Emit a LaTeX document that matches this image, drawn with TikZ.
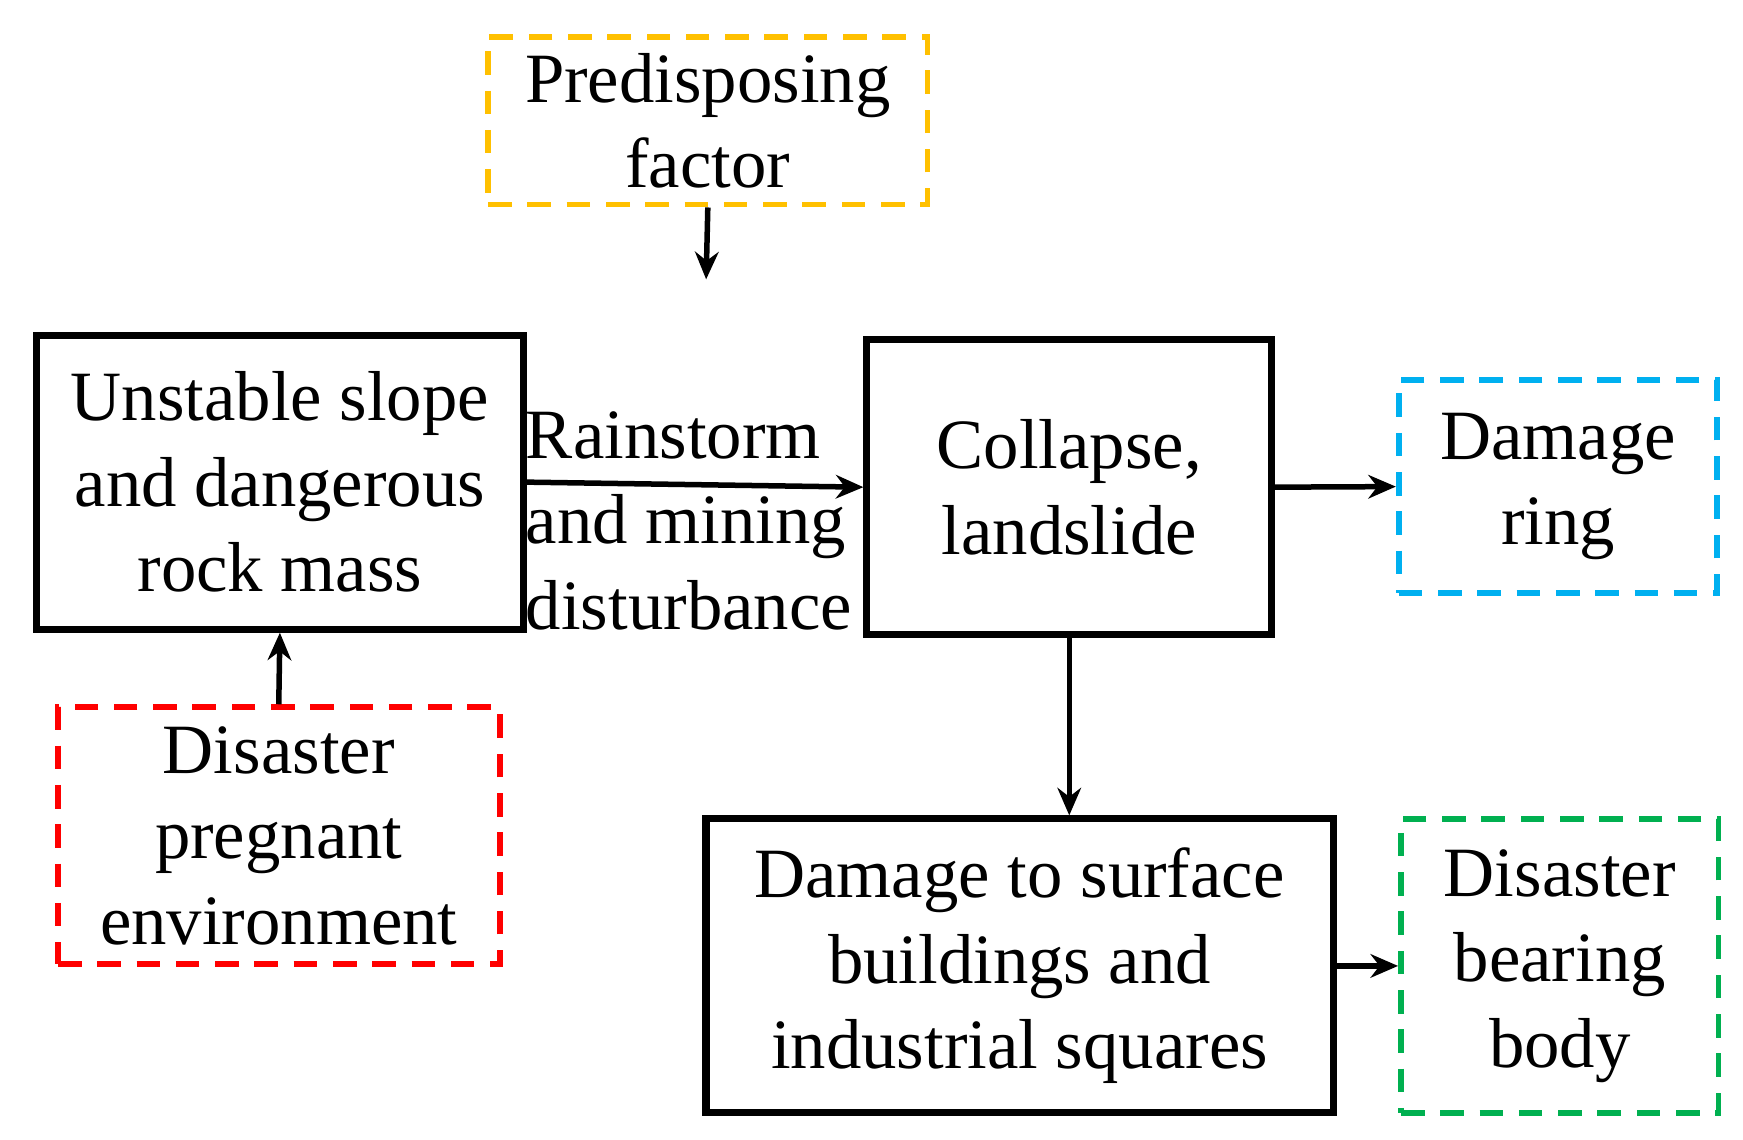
\documentclass[tikz,border=0pt]{standalone}
\usepackage{fontspec}
\setmainfont{Liberation Serif}
\usetikzlibrary{arrows.meta}
\begin{document}
\begin{tikzpicture}[x=0.01cm,y=-0.01cm,
  box/.style={draw,line width=1.8pt,rectangle,inner sep=0pt,align=center,font=\fontsize{18}{21.8}\selectfont},
  dbox/.style={box,dashed,dash pattern=on 6pt off 4pt,line width=1.5pt},
  arr/.style={-{Stealth[length=7pt,width=6pt]},line width=1.4pt}]
\useasboundingbox (0,0) rectangle (1560,1020);
\node[dbox,draw={rgb,255:red,255;green,192;blue,0},minimum width=3.93cm,minimum height=1.5cm] (pre) at (633.5,108) {Predisposing\\factor};
\node[box,minimum width=4.35cm,minimum height=2.63cm] (uns) at (250.5,431.5) {Unstable slope\\and dangerous\\rock mass};
\node[box,minimum width=3.62cm,minimum height=2.64cm] (col) at (957,436) {Collapse,\\landslide};
\node[dbox,draw={rgb,255:red,0;green,176;blue,240},minimum width=2.85cm,minimum height=1.91cm] (ring) at (1394.5,435.5) {Damage\\ring};
\node[dbox,draw=red,minimum width=3.95cm,minimum height=2.3cm] (env) at (249.5,748) {Disaster\\pregnant\\environment};
\node[box,minimum width=5.61cm,minimum height=2.63cm] (dam) at (912.5,864.5) {Damage to surface\\buildings and\\industrial squares};
\node[dbox,draw={rgb,255:red,0;green,176;blue,80},minimum width=2.84cm,minimum height=2.63cm] (bear) at (1396,864.5) {Disaster\\bearing\\body};
\node[align=left,anchor=west,inner sep=0pt,font=\fontsize{18}{21.8}\selectfont] (rain) at (470,466) {Rainstorm\\and mining\\disturbance};
\coordinate (pe) at (632,250);
\draw[arr] (pre.south) -- (pe);
\draw[arr] (uns.east) -- (col.west);
\draw[arr] (col.east) -- (ring.west);
\draw[arr] (env.north) -- (uns.south);
\draw[arr] (col.south) -- (col.south |- dam.north);
\draw[arr] (dam.east) -- (bear.west);
\end{tikzpicture}
\end{document}
